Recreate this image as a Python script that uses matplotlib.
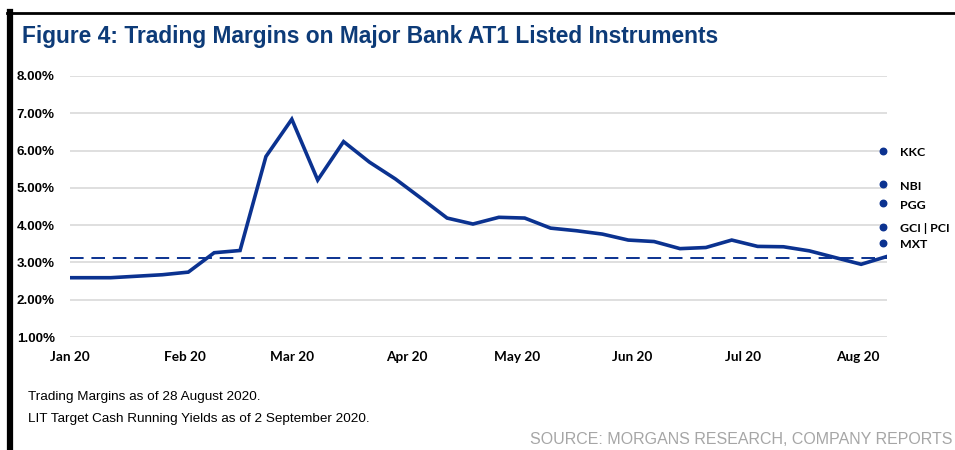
import pandas as pd
import numpy as np
import matplotlib
matplotlib.use("Agg")
import matplotlib.pyplot as plt
from matplotlib.lines import Line2D

# weekly trading margin series (%)
dates = ['2020-01-01', '2020-01-05', '2020-01-12', '2020-01-19', '2020-01-26',
         '2020-02-02', '2020-02-09', '2020-02-16', '2020-02-23', '2020-03-01',
         '2020-03-08', '2020-03-15', '2020-03-22', '2020-03-29', '2020-04-05',
         '2020-04-12', '2020-04-19', '2020-04-26', '2020-05-03', '2020-05-10',
         '2020-05-17', '2020-05-24', '2020-05-31', '2020-06-07', '2020-06-14',
         '2020-06-21', '2020-06-28', '2020-07-05', '2020-07-12', '2020-07-19',
         '2020-07-26', '2020-08-02', '2020-08-09']
margins = [2.59, 2.59, 2.59, 2.63, 2.67, 2.74, 3.26, 3.32, 5.84, 6.84,
           5.21, 6.24, 5.69, 5.24, 4.72, 4.19, 4.03, 4.21, 4.19, 3.92,
           3.85, 3.76, 3.60, 3.56, 3.37, 3.40, 3.60, 3.43, 3.42, 3.31,
           3.13, 2.95, 3.16]
avg_margin = 3.11

# LIT target cash running yields (%)
lit_names = ['KKC', 'NBI', 'PGG', 'GCI | PCI', 'MXT']
lit_yields = [6.00, 5.10, 4.59, 3.96, 3.53]
lit_date = '2020-08-08'

month_ticks = ['2020-01-01', '2020-02-01', '2020-03-01', '2020-04-01',
               '2020-05-01', '2020-06-01', '2020-07-01', '2020-08-01']
month_labels = ['Jan 20', 'Feb 20', 'Mar 20', 'Apr 20', 'May 20', 'Jun 20', 'Jul 20', 'Aug 20']
y_ticks = [1, 2, 3, 4, 5, 6, 7, 8]

navy = '#0b3290'
title_col = '#0d3b78'

x = pd.to_datetime(dates)

fig = plt.figure(figsize=(9.55, 4.5), dpi=100)
ax = fig.add_axes([70/955, (450-337)/450, (887-70)/955, (337-76)/450])

for yv in y_ticks:
    ax.axhline(yv, color='#d9d9d9', lw=1.2, zorder=0)
ax.axhline(avg_margin, color=navy, lw=1.4, dashes=(7, 4), zorder=2)
ax.plot(x, margins, color=navy, lw=2.6, solid_joinstyle='miter', zorder=3)

lx = pd.to_datetime([lit_date] * len(lit_yields))
ax.scatter(lx, lit_yields, s=22, color=navy, zorder=4, clip_on=False)
for n, v in zip(lit_names, lit_yields):
    ax.annotate(n, (pd.Timestamp(lit_date), v), xytext=(12, -1.5), textcoords='offset points',
                va='center', ha='left', fontsize=8.9, fontweight='bold',
                family=['Lato', 'DejaVu Sans'], annotation_clip=False)

ax.set_xlim(pd.Timestamp('2020-01-01'), pd.Timestamp('2020-08-09'))
ax.set_ylim(1, 8)
ax.set_yticks(y_ticks)
ax.set_yticklabels(['%.2f%%' % v for v in y_ticks], fontsize=9.6, fontweight='bold',
                   family='Liberation Sans')
ax.set_xticks(pd.to_datetime(month_ticks))
ax.set_xticklabels(month_labels, fontsize=9.8, fontweight='bold', family='Lato')
ax.tick_params(axis='y', length=0, pad=11)
ax.tick_params(axis='x', length=0, pad=10)
for s in ax.spines.values():
    s.set_visible(False)

# frame: top rule and left bar
fig.add_artist(Line2D([7/955, 1], [1 - 13/450, 1 - 13/450], color='black', lw=2))
fig.add_artist(Line2D([10/955, 10/955], [0, 1 - 12/450], color='black', lw=4.5))

fig.text(22/955, 1 - 36/450, 'Figure 4: Trading Margins on Major Bank AT1 Listed Instruments',
         fontsize=16.4, fontweight='bold', color=title_col, family='Liberation Sans', va='center')
fig.text(28/955, 1 - 397/450, 'Trading Margins as of 28 August 2020.', fontsize=9.7,
         family='Liberation Sans', va='center')
fig.text(28/955, 1 - 419/450, 'LIT Target Cash Running Yields as of 2 September 2020.', fontsize=9.7,
         family='Liberation Sans', va='center')
fig.text(952/955, 1 - 440/450, 'SOURCE: MORGANS RESEARCH, COMPANY REPORTS', fontsize=11.5,
         family='Liberation Sans', color='#a6a6a6', ha='right', va='center')

fig.savefig('out.png', dpi=100)
